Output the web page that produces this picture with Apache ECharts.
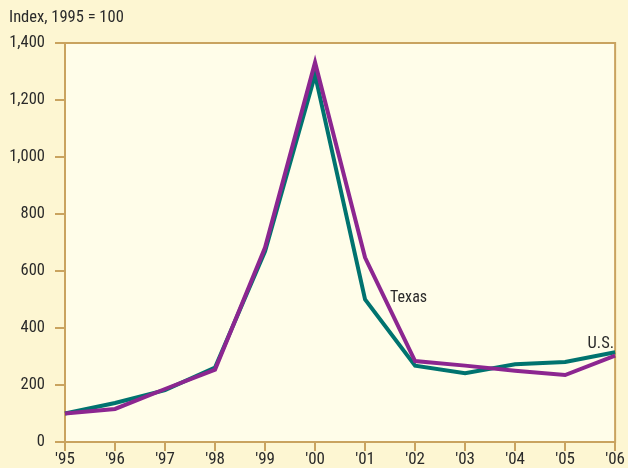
<!DOCTYPE html>
<html>
<head>
<meta charset="utf-8">
<script src="https://cdn.jsdelivr.net/npm/echarts@6/dist/echarts.min.js"></script>
<style>
html,body{margin:0;padding:0;background:#fdf6d2;}
#c{width:628px;height:468px;}
</style>
</head>
<body>
<div id="c"></div>
<script>
var years = ["'95","'96","'97","'98","'99","'00","'01","'02","'03","'04","'05","'06"];
var usValues = [100, 137, 182, 261, 669, 1288, 500, 268, 241, 273, 281, 315];
var texasValues = [100, 116, 186, 254, 682, 1332, 647, 284, 268, 250, 235, 303];
var yTicks = [0, 200, 400, 600, 800, 1000, 1200, 1400];
var axisTitle = 'Index, 1995 = 100';

var FONT = '"Liberation Sans Narrow", "Arial Narrow", "Roboto Condensed", "Liberation Sans", sans-serif';
var TAN = '#c9a35f';
var chart = echarts.init(document.getElementById('c'), null, {renderer: 'canvas'});

var option = {
  backgroundColor: '#fdf6d2',
  animation: false,
  grid: {
    left: 65, right: 7, top: 43, bottom: 26,
    show: true, backgroundColor: '#fffde9', borderColor: TAN, borderWidth: 2
  },
  xAxis: {
    type: 'category',
    data: years,
    boundaryGap: false,
    axisLine: {lineStyle: {color: TAN, width: 2}},
    axisTick: {show: true, length: 9, alignWithLabel: true, lineStyle: {color: TAN, width: 2}, interval: 0},
    axisLabel: {color: '#2a2a2a', fontFamily: FONT, fontSize: 17, margin: 9, interval: 0},
    splitLine: {show: false}
  },
  yAxis: {
    type: 'value',
    min: yTicks[0], max: yTicks[yTicks.length - 1], interval: yTicks[1] - yTicks[0],
    axisLine: {show: true, lineStyle: {color: TAN, width: 2}},
    axisTick: {show: true, length: 10, lineStyle: {color: TAN, width: 2}},
    axisLabel: {color: '#2a2a2a', fontFamily: FONT, fontSize: 16.5, margin: 20,
      formatter: function(v){ return v.toLocaleString('en-US'); }},
    splitLine: {show: false}
  },
  graphic: [{
    type: 'text', left: 9, top: 9,
    style: {text: axisTitle, fill: '#2a2a2a', font: '16.5px ' + FONT}
  }],
  series: [
    {
      name: 'U.S.', type: 'line', data: usValues, symbol: 'none',
      lineStyle: {color: '#00736f', width: 4, join: 'miter'},
      z: 2,
      markPoint: {
        symbol: 'circle', symbolSize: 0,
        data: [{coord: [years.length - 1, usValues[usValues.length - 1]], value: 'U.S.'}],
        label: {show: true, formatter: 'U.S.', color: '#2a2a2a', fontFamily: FONT, fontSize: 16.5,
          position: 'left', offset: [4, -8]}
      }
    },
    {
      name: 'Texas', type: 'line', data: texasValues, symbol: 'none',
      lineStyle: {color: '#8c2690', width: 4, join: 'miter'},
      z: 3,
      markPoint: {
        symbol: 'circle', symbolSize: 0,
        data: [{coord: [6, texasValues[6]], value: 'Texas'}],
        label: {show: true, formatter: 'Texas', color: '#2a2a2a', fontFamily: FONT, fontSize: 16,
          position: 'right', offset: [20, 40]}
      }
    }
  ]
};
chart.setOption(option);
</script>
</body>
</html>
